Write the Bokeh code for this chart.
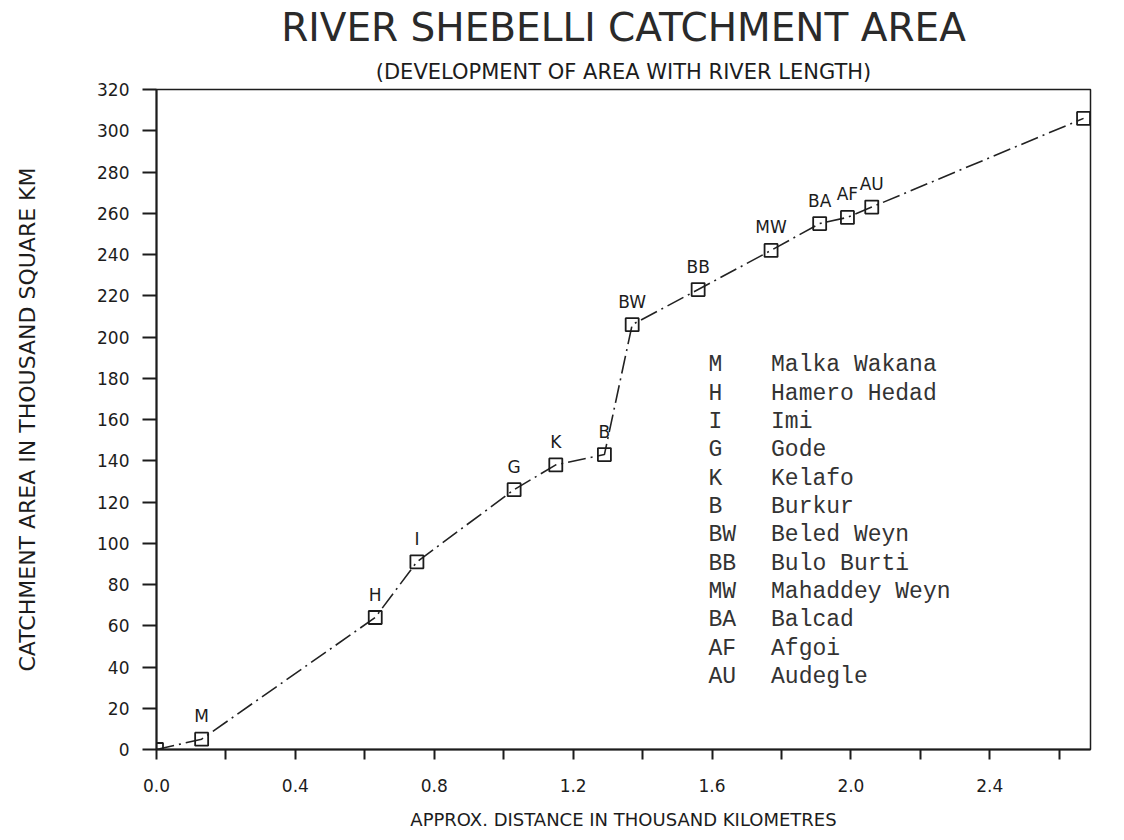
from bokeh.plotting import figure
from bokeh.models import (ColumnDataSource, LabelSet, Title, FixedTicker, Range1d,
                          PrintfTickFormatter)
from bokeh.core.properties import value
from bokeh.embed import file_html
from bokeh.resources import INLINE

# ---- data ----
distance = [0.0, 0.13, 0.63, 0.75, 1.03, 1.15, 1.29, 1.37, 1.56, 1.77, 1.91, 1.99, 2.06, 2.67]
area = [0, 5, 64, 91, 126, 138, 143, 206, 223, 242, 255, 258, 263, 306]
station_codes = ["", "M", "H", "I", "G", "K", "B", "BW", "BB", "MW", "BA", "AF", "AU", ""]

legend_codes = ["M", "H", "I", "G", "K", "B", "BW", "BB", "MW", "BA", "AF", "AU"]
legend_names = ["Malka Wakana", "Hamero Hedad", "Imi", "Gode", "Kelafo", "Burkur",
                "Beled Weyn", "Bulo Burti", "Mahaddey Weyn", "Balcad", "Afgoi", "Audegle"]

x_ticks = [0.0, 0.4, 0.8, 1.2, 1.6, 2.0, 2.4]
x_minor_ticks = [0.2, 0.6, 1.0, 1.4, 1.8, 2.2, 2.6]
y_ticks = [0, 20, 40, 60, 80, 100, 120, 140, 160, 180, 200, 220, 240, 260, 280, 300, 320]

INK = "#1c1c1c"
SANS = "DejaVu Sans"

p = figure(width=1108, height=834,
           x_range=Range1d(0, 2.69), y_range=Range1d(0, 320),
           output_backend="svg", toolbar_location=None,
           min_border_left=156, min_border_right=18,
           min_border_top=88, min_border_bottom=85)

p.grid.visible = False
p.outline_line_color = INK
p.outline_line_width = 1.5
p.background_fill_color = "white"
p.border_fill_color = "white"

# titles
p.add_layout(Title(text="(DEVELOPMENT OF AREA WITH RIVER LENGTH)", align="center",
                   text_font=SANS, text_font_size="21px", text_font_style="normal",
                   text_color=INK, standoff=12), "above")
p.add_layout(Title(text="RIVER SHEBELLI CATCHMENT AREA", align="center",
                   text_font=SANS, text_font_size="39px", text_font_style="normal",
                   text_color="#2a2a2a", standoff=4), "above")

# x axis
xa = p.xaxis[0]
xa.ticker = FixedTicker(ticks=x_ticks, minor_ticks=x_minor_ticks)
xa.formatter = PrintfTickFormatter(format="%.1f")
xa.axis_label = "APPROX. DISTANCE IN THOUSAND KILOMETRES"
xa.axis_label_text_font = SANS
xa.axis_label_text_font_size = "18px"
xa.axis_label_text_font_style = "normal"
xa.axis_label_text_color = INK
xa.axis_label_standoff = 14
xa.major_label_text_font = SANS
xa.major_label_text_font_size = "17px"
xa.major_label_text_color = INK
xa.major_label_standoff = 19
xa.major_tick_out = 10
xa.major_tick_in = 0
xa.minor_tick_out = 10
xa.minor_tick_in = 0
xa.axis_line_width = 2
xa.axis_line_color = INK
xa.major_tick_line_width = 2
xa.minor_tick_line_width = 2
xa.major_tick_line_color = INK
xa.minor_tick_line_color = INK

# y axis
ya = p.yaxis[0]
ya.ticker = FixedTicker(ticks=y_ticks)
ya.axis_label = "CATCHMENT AREA IN THOUSAND SQUARE KM"
ya.axis_label_text_font = SANS
ya.axis_label_text_font_size = "22px"
ya.axis_label_text_font_style = "normal"
ya.axis_label_text_color = INK
ya.axis_label_standoff = 54
ya.major_label_text_font = SANS
ya.major_label_text_font_size = "17px"
ya.major_label_text_color = INK
ya.major_label_standoff = 13
ya.major_tick_out = 14
ya.major_tick_in = 0
ya.minor_tick_out = 0
ya.minor_tick_in = 0
ya.axis_line_width = 2
ya.axis_line_color = INK
ya.major_tick_line_width = 2
ya.major_tick_line_color = INK

# series
src = ColumnDataSource(dict(x=distance, y=area, code=station_codes))
p.line("x", "y", source=src, line_color="#222222", line_width=1.6, line_dash="18 5 2 5")
p.scatter("x", "y", source=src, marker="square", size=13, fill_color=None,
          line_color=INK, line_width=1.8)

lab_src = ColumnDataSource(dict(
    x=[d for d, c in zip(distance, station_codes) if c],
    y=[a for a, c in zip(area, station_codes) if c],
    code=[c for c in station_codes if c]))
p.add_layout(LabelSet(x="x", y="y", text="code", source=lab_src,
                      text_align="center", text_baseline="middle", y_offset=23,
                      text_font=value(SANS), text_font_size="17px", text_color=INK))

# station key (typewriter style)
key_top = 186.3
key_step = 13.75
key_y = [key_top - key_step * i for i in range(len(legend_codes))]
key_src = ColumnDataSource(dict(code=legend_codes, name=legend_names, y=key_y,
                                xc=[1.59] * len(legend_codes), xn=[1.77] * len(legend_codes)))
p.text(x="xc", y="y", text="code", source=key_src, text_font=value("Liberation Mono"),
       text_font_size="23px", text_align="left", text_baseline="middle", text_color="#333333")
p.text(x="xn", y="y", text="name", source=key_src, text_font=value("Liberation Mono"),
       text_font_size="23px", text_align="left", text_baseline="middle", text_color="#333333")

open("out.html", "w").write(file_html(p, INLINE))
